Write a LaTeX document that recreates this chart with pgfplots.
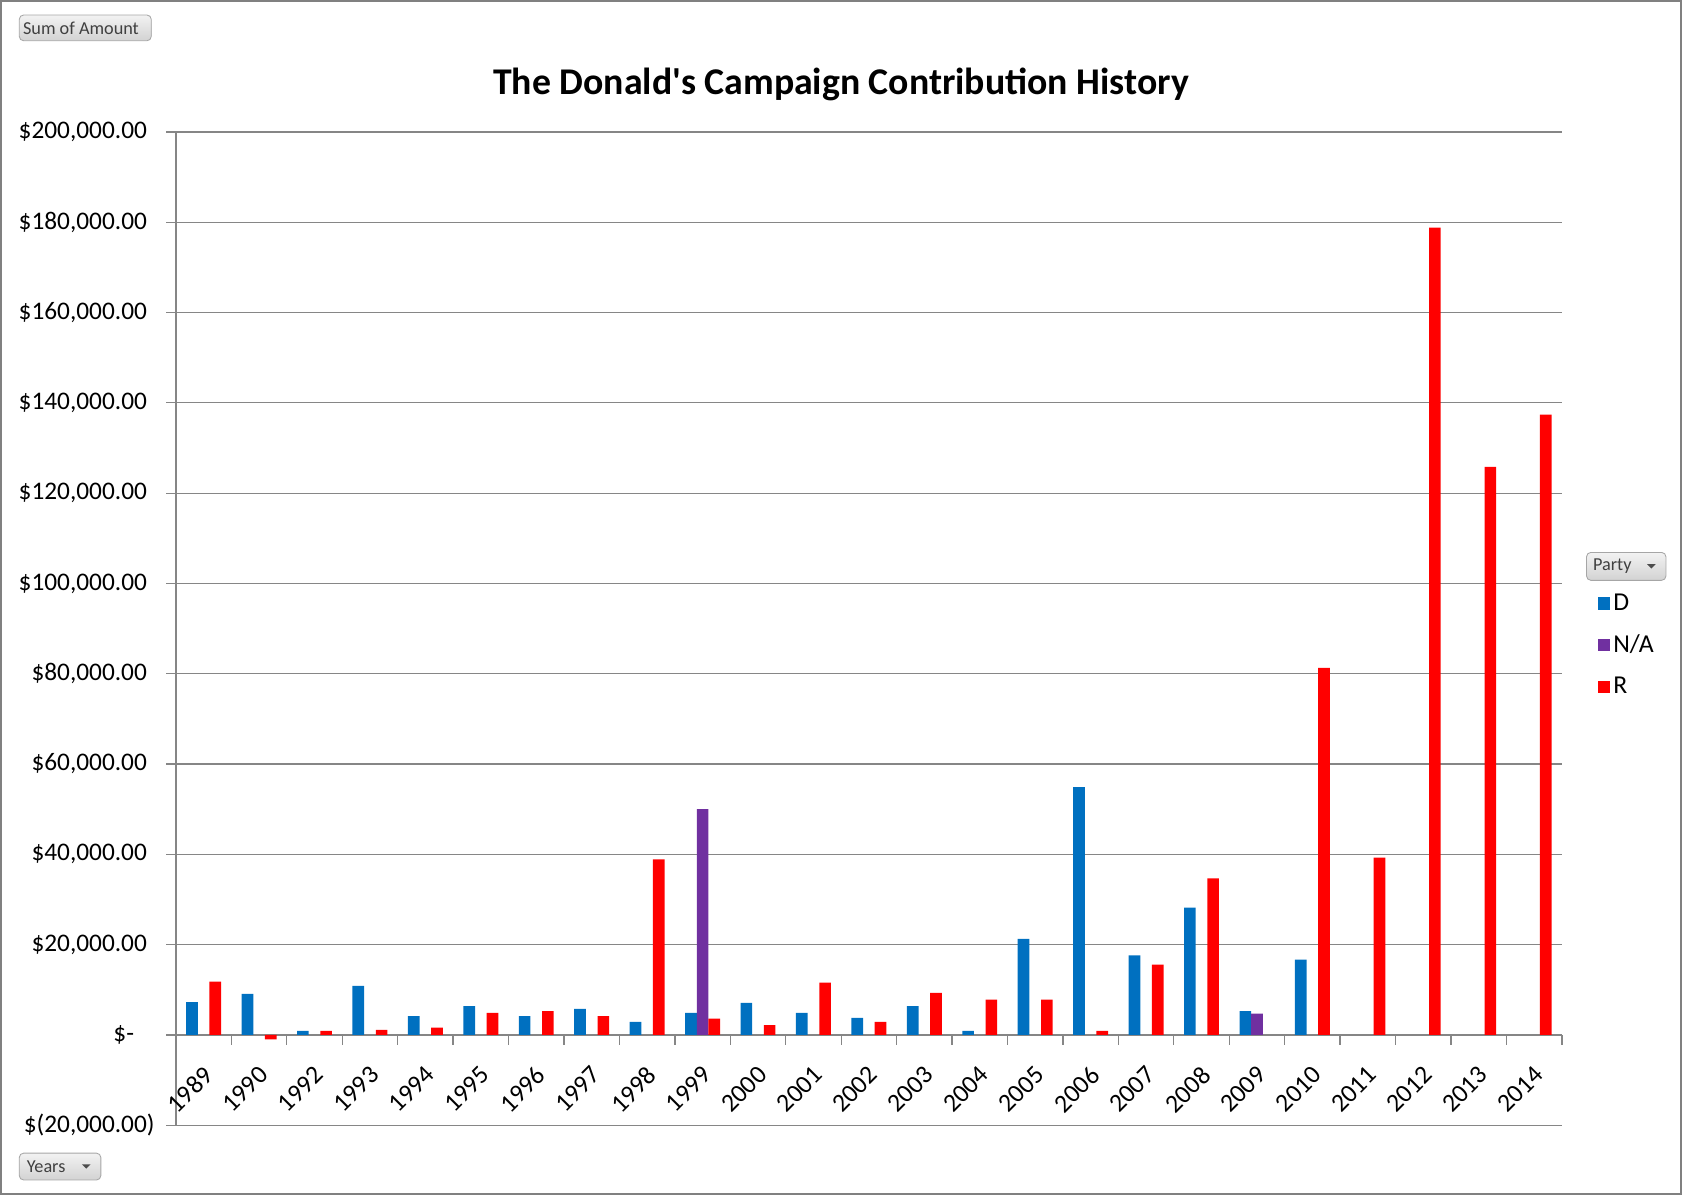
\documentclass[border=0pt]{standalone}
\usepackage{pgfplots}
\usepackage{pgfplotstable}
\pgfplotsset{compat=1.18}
\usepackage{fontspec}
\setmainfont{Carlito}
\usetikzlibrary{calc}

\definecolor{dem}{HTML}{0070C0}
\definecolor{na}{HTML}{7030A0}
\definecolor{rep}{HTML}{FF0000}
\definecolor{gridgray}{HTML}{868686}

% contributions by year and party (NaN = no bar)
\pgfplotstableread{
idx year D NA R
0  1989 7300  nan   11800
1  1990 9100  nan   -1000
2  1992 900   nan   900
3  1993 10900 nan   1100
4  1994 4200  nan   1600
5  1995 6400  nan   4900
6  1996 4200  nan   5300
7  1997 5800  nan   4200
8  1998 2900  nan   38900
9  1999 4900  50000 3600
10 2000 7100  nan   2200
11 2001 4900  nan   11600
12 2002 3800  nan   2900
13 2003 6400  nan   9300
14 2004 900   nan   7800
15 2005 21300 nan   7800
16 2006 54900 nan   900
17 2007 17600 nan   15600
18 2008 28200 nan   34700
19 2009 5300  4700  nan
20 2010 16700 nan   81300
21 2011 nan   nan   39300
22 2012 nan   nan   178800
23 2013 nan   nan   125800
24 2014 nan   nan   137400
}\contrib

\tikzset{
  pivotbtn/.style={draw=gray!70, rounded corners=2pt, top color=gray!10, bottom color=gray!35,
    text=black!75, font=\fontsize{8.5}{10}\selectfont, inner sep=0pt, anchor=center},
}

\begin{document}
\begin{tikzpicture}
\begin{axis}[
  at={(0,0)}, anchor=south west,
  scale only axis,
  width=646pt, height=463pt,
  xmin=-0.5, xmax=24.5,
  ymin=-20000, ymax=200000,
  axis y line*=left,
  axis x line*=middle,
  axis line style={gridgray, line width=0.6pt},
  ymajorgrids,
  grid style={gridgray, line width=0.6pt},
  tick align=outside,
  major tick length=4.5pt,
  minor tick length=4.5pt,
  tick style={gridgray, line width=0.6pt},
  xtick={0,1,...,24},
  xticklabels from table={\contrib}{year},
  major x tick style={draw=none},
  minor xtick={-0.5,0.5,...,24.5},
  scaled y ticks=false,
  ytick={-20000,0,20000,40000,60000,80000,100000,120000,140000,160000,180000,200000},
  yticklabels={{\$(20,000.00\rlap{)}},{\$-\hphantom{0}},{\$20,000.00},{\$40,000.00},{\$60,000.00},{\$80,000.00},{\$100,000.00},{\$120,000.00},{\$140,000.00},{\$160,000.00},{\$180,000.00},{\$200,000.00}},
  yticklabel style={font=\fontsize{11.8}{14}\selectfont, xshift=-5.5pt},
  xticklabel style={font=\fontsize{12}{14}\selectfont, rotate=45, anchor=north east, inner sep=1pt, xshift=-6pt, yshift=-5pt},
  ybar,
  bar width=0.21,
  legend style={at={(1.0255,0.539)}, anchor=north west, draw=none, fill=none,
    font=\fontsize{12}{14}\selectfont, inner sep=0pt, row sep=7pt,
    nodes={inner sep=1.5pt}},
  legend cell align=left,
  legend image code/.code={\fill[#1] (0pt,-2.9pt) rectangle (5.8pt,2.9pt);},
]
\addplot[fill=dem, draw=none, bar shift=-0.21] table[x=idx, y=D] {\contrib};
\addlegendentry{D}
\addplot[fill=na, draw=none, bar shift=0] table[x=idx, y=NA] {\contrib};
\addlegendentry{N/A}
\addplot[fill=rep, draw=none, bar shift=0.21] table[x=idx, y=R] {\contrib};
\addlegendentry{R}
\end{axis}

% chart frame
\draw[gray, line width=1pt] (-81.5pt,-32pt) rectangle (701.5pt,524pt);
% title
\node[font=\bfseries\fontsize{17.6}{21}\selectfont] at (310pt,485pt) {The Donald\textquotesingle s Campaign Contribution History};
% pivot field buttons
\node[pivotbtn, minimum width=61.5pt, minimum height=12pt] at (-42.25pt,511.5pt) {\hspace*{-4pt}Sum of Amount};
\node[pivotbtn, minimum width=38pt, minimum height=12.5pt] (yb) at (-54pt,-19.25pt) {\hspace*{-13pt}Years};
\fill[black!70] ($(yb.east)+(-9pt,1pt)$) -- ++(4pt,0) -- ++(-2pt,-2pt) -- cycle;
\node[pivotbtn, minimum width=37pt, minimum height=13pt] (pb) at (676pt,260.5pt) {\hspace*{-13pt}Party};
\fill[black!70] ($(pb.east)+(-9pt,1pt)$) -- ++(4pt,0) -- ++(-2pt,-2pt) -- cycle;
\end{tikzpicture}
\end{document}
